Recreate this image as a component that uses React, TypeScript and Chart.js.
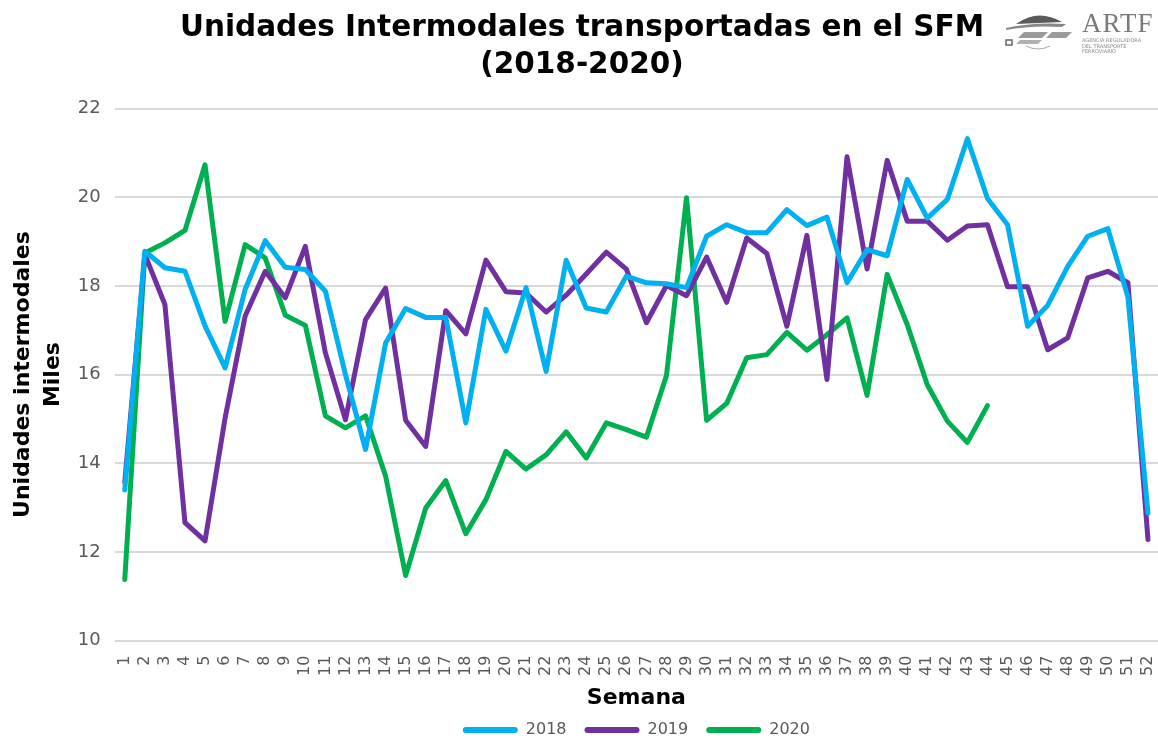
import React, { useEffect, useRef } from "react";
import { Chart, registerables } from "chart.js";

Chart.register(...registerables);

const weeks: string[] = Array.from({ length: 52 }, (_, i) => String(i + 1));

const series2018: number[] = [
  13.4, 18.78, 18.41, 18.33, 17.1, 16.15, 17.92, 19.02, 18.42, 18.37,
  17.88, 16.0, 14.31, 16.71, 17.49, 17.29, 17.29, 14.91, 17.47, 16.53,
  17.96, 16.07, 18.58, 17.5, 17.41, 18.22, 18.07, 18.05, 17.96, 19.12,
  19.38, 19.2, 19.2, 19.72, 19.36, 19.55, 18.07, 18.82, 18.68, 20.4,
  19.53, 19.95, 21.32, 19.97, 19.38, 17.09, 17.56, 18.44, 19.12, 19.29,
  17.75, 12.88,
];

const series2019: number[] = [
  13.58, 18.71, 17.58, 12.66, 12.25, 15.02, 17.32, 18.33, 17.73, 18.89,
  16.49, 14.98, 17.24, 17.95, 14.97, 14.38, 17.44, 16.92, 18.58, 17.87,
  17.84, 17.41, 17.79, 18.27, 18.76, 18.38, 17.17, 18.01, 17.78, 18.65,
  17.63, 19.08, 18.73, 17.09, 19.14, 15.89, 20.91, 18.38, 20.83, 19.46,
  19.46, 19.03, 19.35, 19.38, 17.98, 17.98, 16.56, 16.83, 18.18, 18.33,
  18.07, 12.28,
];

const series2020: (number | null)[] = [
  11.38, 18.74, 18.97, 19.25, 20.73, 17.2, 18.93, 18.63, 17.34, 17.11,
  15.07, 14.8, 15.07, 13.71, 11.47, 12.99, 13.61, 12.41, 13.18, 14.27,
  13.87, 14.19, 14.71, 14.12, 14.91, 14.76, 14.59, 15.98, 19.99, 14.97,
  15.35, 16.38, 16.45, 16.95, 16.55, 16.9, 17.28, 15.53, 18.26, 17.13,
  15.77, 14.95, 14.47, 15.3, null, null, null, null, null, null,
  null, null,
];

const yTicks: number[] = [10, 12, 14, 16, 18, 20, 22];

const seriesNames = ["2018", "2019", "2020"];
const seriesColors = ["#00B0F0", "#7030A0", "#00B050"];

const FONT = "'DejaVu Sans', sans-serif";

function Logo() {
  return (
    <div
      style={{
        position: "absolute",
        left: 1002,
        top: 8,
        width: 156,
        height: 46,
        color: "#7a7a7a",
        fontFamily: "'Liberation Serif', 'DejaVu Serif', serif",
      }}
    >
      <svg width="76" height="44" style={{ position: "absolute", left: 0, top: 0 }}>
        <path d="M14 16 Q36 0 60 14 L14 16 Z" fill="#5a5a5a" />
        <path d="M4 20 Q30 14 64 16 L60 19 Q30 17 4 22 Z" fill="#888" />
        <polygon points="22,24 46,24 40,30 16,30" fill="#9a9a9a" />
        <polygon points="50,24 70,24 64,30 44,30" fill="#9a9a9a" />
        <polygon points="18,32 40,32 36,36 14,36" fill="#b0b0b0" />
        <rect x="4" y="32" width="6" height="5" fill="none" stroke="#666" strokeWidth="1.5" />
        <path d="M24 38 Q36 44 48 38" fill="none" stroke="#aaa" strokeWidth="1" />
      </svg>
      <div
        style={{
          position: "absolute",
          left: 80,
          top: 2,
          fontSize: 27,
          lineHeight: "27px",
          letterSpacing: 1,
          color: "#7a7a7a",
        }}
      >
        ARTF
      </div>
      <div
        style={{
          position: "absolute",
          left: 80,
          top: 30,
          fontSize: 5,
          lineHeight: "5.5px",
          color: "#8a8a8a",
          fontFamily: "'DejaVu Sans', sans-serif",
          whiteSpace: "nowrap",
        }}
      >
        AGENCIA REGULADORA
        <br />
        DEL TRANSPORTE
        <br />
        FERROVIARIO
      </div>
    </div>
  );
}

export default function App() {
  const canvasRef = useRef<HTMLCanvasElement | null>(null);

  useEffect(() => {
    const canvas = canvasRef.current;
    if (!canvas) return;
    const data = [series2018, series2019, series2020];
    const chart = new Chart(canvas, {
      type: "line",
      data: {
        labels: weeks,
        datasets: seriesNames.map((name, i) => ({
          label: name,
          data: data[i],
          borderColor: seriesColors[i],
          backgroundColor: seriesColors[i],
          borderWidth: 5,
          pointRadius: 0,
          pointHoverRadius: 0,
          tension: 0,
          fill: false,
          spanGaps: false,
          borderCapStyle: "round" as const,
          borderJoinStyle: "round" as const,
        })),
      },
      options: {
        animation: false,
        responsive: true,
        maintainAspectRatio: false,
        layout: { padding: { left: 6, right: 0, top: 0, bottom: -10 } },
        plugins: {
          title: {
            display: true,
            text: ["Unidades Intermodales transportadas en el SFM", "(2018-2020)"],
            color: "#000",
            font: { family: FONT, size: 29.5, weight: "bold", lineHeight: 1.28 },
            padding: { top: 9, bottom: 24 },
          },
          legend: {
            display: true,
            position: "bottom",
            fullSize: false,
            labels: {
              color: "#595959",
              font: { family: FONT, size: 16 },
              boxWidth: 55,
              boxHeight: 6,
              padding: 18,
              generateLabels: () =>
                seriesNames.map((name, i) => ({
                  text: name,
                  fillStyle: seriesColors[i],
                  strokeStyle: seriesColors[i],
                  lineWidth: 0,
                  hidden: false,
                  datasetIndex: i,
                  fontColor: "#595959",
                  borderRadius: 3,
                })),
            },
          },
          tooltip: { enabled: false },
        },
        scales: {
          x: {
            offset: true,
            grid: { display: false, drawTicks: false },
            border: { display: false },
            afterFit: (scale: any) => {
              scale.paddingRight = 0;
              scale.paddingLeft = 0;
            },
            ticks: {
              color: "#595959",
              font: { family: FONT, size: 16 },
              minRotation: 90,
              maxRotation: 90,
              autoSkip: false,
              padding: 15,
            },
            title: {
              display: true,
              text: "Semana",
              color: "#000",
              font: { family: FONT, size: 22, weight: "bold", lineHeight: 1.0 },
              padding: { top: -4, bottom: -5 },
            },
          },
          y: {
            min: 10,
            max: 22,
            afterBuildTicks: (axis: any) => {
              axis.ticks = yTicks.map((v) => ({ value: v }));
            },
            grid: { color: "#d9d9d9", lineWidth: 2, drawTicks: false },
            border: { display: false },
            ticks: {
              color: "#595959",
              font: { family: FONT, size: 18 },
              padding: 14,
            },
            title: {
              display: true,
              text: ["Unidades intermodales", "Miles"],
              color: "#000",
              font: { family: FONT, size: 22, weight: "bold", lineHeight: 1.36 },
              padding: { top: 2, bottom: -4 },
            },
          },
        },
      },
    });
    return () => chart.destroy();
  }, []);

  return (
    <div style={{ position: "absolute", left: 0, top: 0, width: 1158, height: 738, background: "#fff" }}>
      <canvas ref={canvasRef} />
      <Logo />
    </div>
  );
}
